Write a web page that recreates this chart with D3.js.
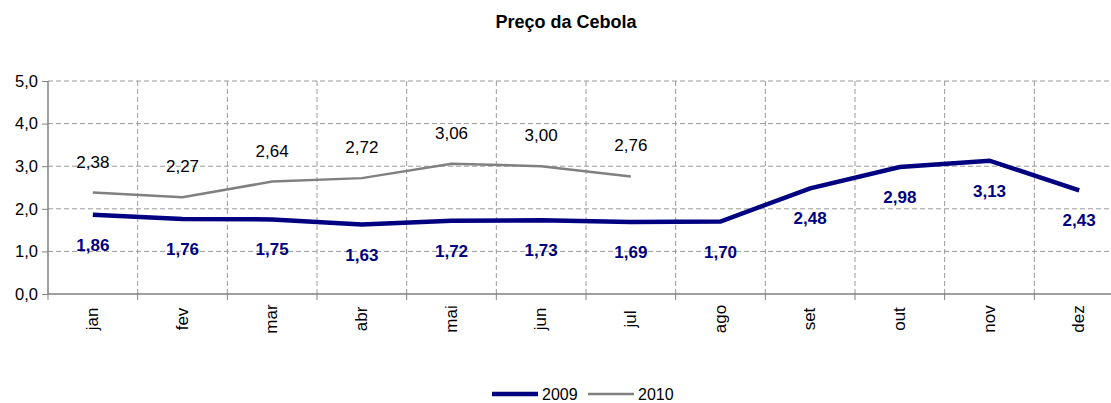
<!DOCTYPE html>
<html>
<head>
<meta charset="utf-8">
<script src="https://cdn.jsdelivr.net/npm/d3@7"></script>
<style>
  body { margin: 0; background: #fff; }
  svg { display: block; font-family: "Liberation Sans", Arial, sans-serif; }
</style>
</head>
<body>
<div id="chart"></div>
<script>
// data
const months = ["jan", "fev", "mar", "abr", "mai", "jun", "jul", "ago", "set", "out", "nov", "dez"];
const v2009 = [1.86, 1.76, 1.75, 1.63, 1.72, 1.73, 1.69, 1.70, 2.48, 2.98, 3.13, 2.43];
const v2010 = [2.38, 2.27, 2.64, 2.72, 3.06, 3.00, 2.76];
const yTicks = [0, 1, 2, 3, 4, 5];

const W = 1111, H = 403;
const mLeft = 48, mRight = 1124, mTop = 81, mBottom = 294;

const svg = d3.select("#chart").append("svg")
  .attr("width", W).attr("height", H);

const x = d3.scaleBand().domain(months).range([mLeft, mRight]);
const y = d3.scaleLinear().domain([0, 5]).range([mBottom, mTop]);
const fmt = v => d3.format(".2f")(v).replace(".", ",");

// title
svg.append("text")
  .attr("x", 566).attr("y", 28)
  .attr("text-anchor", "middle")
  .attr("font-size", 18).attr("font-weight", "bold")
  .text("Preço da Cebola");

// grid
const grid = svg.append("g").attr("stroke", "#9a9a9a").attr("stroke-dasharray", "5,3");
grid.selectAll("line.h").data(yTicks.filter(d => d > 0)).join("line")
  .attr("x1", mLeft).attr("x2", mRight)
  .attr("y1", d => y(d)).attr("y2", d => y(d));
grid.selectAll("line.v").data(months.slice(1)).join("line")
  .attr("x1", d => x(d)).attr("x2", d => x(d))
  .attr("y1", mTop).attr("y2", mBottom);

// axes
const yAxis = svg.append("g").attr("transform", `translate(${mLeft},0)`)
  .call(d3.axisLeft(y).tickValues(yTicks).tickSize(6).tickPadding(4)
    .tickFormat(d => d3.format(".1f")(d).replace(".", ",")));
yAxis.select(".domain").attr("stroke", "#808080").attr("stroke-width", 1.5).attr("d", `M0,${mTop}V${mBottom}`);
yAxis.selectAll(".tick line").attr("stroke", "#808080");
yAxis.selectAll("text").attr("font-size", 16.5).attr("fill", "#000").attr("font-family", "Liberation Sans, Arial, sans-serif");

const xAxis = svg.append("g").attr("transform", `translate(0,${mBottom})`);
xAxis.append("line").attr("x1", mLeft).attr("x2", mRight).attr("stroke", "#808080").attr("stroke-width", 1.5);
xAxis.selectAll("line.t").data(months).join("line")
  .attr("x1", d => x(d)).attr("x2", d => x(d))
  .attr("y1", 0).attr("y2", 6).attr("stroke", "#808080");
xAxis.selectAll("text").data(months).join("text")
  .attr("transform", d => `translate(${x(d) + x.bandwidth() / 2 + 5},${25}) rotate(-90)`)
  .attr("text-anchor", "middle")
  .attr("font-size", 17)
  .text(d => d);

// lines
const line = d3.line().x((d, i) => x(months[i]) + x.bandwidth() / 2).y(d => y(d));
svg.append("path").datum(v2010).attr("d", line)
  .attr("fill", "none").attr("stroke", "#808080").attr("stroke-width", 2.5);
svg.append("path").datum(v2009).attr("d", line)
  .attr("fill", "none").attr("stroke", "#000080").attr("stroke-width", 4.5);

// labels
svg.append("g").selectAll("text").data(v2010).join("text")
  .attr("x", (d, i) => x(months[i]) + x.bandwidth() / 2)
  .attr("y", d => y(d) - 25)
  .attr("text-anchor", "middle").attr("font-size", 17)
  .text(fmt);
svg.append("g").selectAll("text").data(v2009).join("text")
  .attr("x", (d, i) => x(months[i]) + x.bandwidth() / 2)
  .attr("y", d => y(d) + 36)
  .attr("text-anchor", "middle").attr("font-size", 17)
  .attr("font-weight", "bold").attr("fill", "#000080")
  .text(fmt);

// legend
const legend = [
  { name: "2009", color: "#000080", w: 4.5, x: 492 },
  { name: "2010", color: "#808080", w: 2.5, x: 588 }
];
const lg = svg.append("g").selectAll("g").data(legend).join("g")
  .attr("transform", d => `translate(${d.x},394)`);
lg.append("line").attr("x1", 0).attr("x2", 46)
  .attr("stroke", d => d.color).attr("stroke-width", d => d.w);
lg.append("text").attr("x", 50).attr("y", 5.5).attr("font-size", 16).text(d => d.name);
</script>
</body>
</html>
